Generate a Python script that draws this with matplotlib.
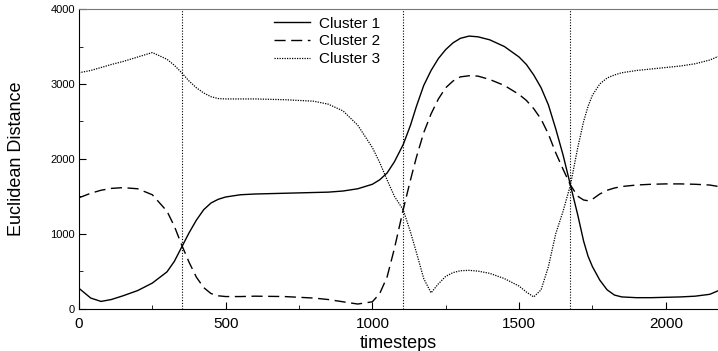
import matplotlib
matplotlib.use("Agg")
import matplotlib.pyplot as plt

plt.rcParams["font.family"] = ["Liberation Sans", "DejaVu Sans"]

# timesteps sampled along each curve
t = [0, 40, 75, 110, 150, 200, 250, 300, 325, 350, 375, 400, 425, 450, 475, 500,
     550, 600, 700, 800, 850, 900, 950, 1000, 1025, 1050, 1075, 1105, 1130, 1150,
     1175, 1200, 1225, 1250, 1275, 1300, 1330, 1360, 1400, 1450, 1500, 1525, 1550,
     1575, 1600, 1625, 1650, 1675, 1700, 1720, 1735, 1750, 1775, 1800, 1825, 1850,
     1900, 1950, 2000, 2050, 2100, 2150, 2180]

cluster1 = [270, 140, 95, 120, 170, 240, 340, 490, 630, 820, 1010, 1180, 1320, 1410, 1460, 1490,
            1520, 1530, 1540, 1550, 1555, 1570, 1600, 1660, 1720, 1810, 1960, 2190, 2450, 2700,
            2980, 3180, 3340, 3460, 3550, 3610, 3640, 3630, 3590, 3500, 3360, 3260, 3120,
            2950, 2720, 2400, 2050, 1650, 1250, 900, 700, 560, 380, 250, 180, 155,
            145, 145, 150, 155, 165, 190, 240]

cluster2 = [1480, 1540, 1580, 1605, 1615, 1600, 1520, 1300, 1100, 850, 620, 420, 280, 200, 170, 160,
            160, 165, 160, 140, 120, 90, 60, 90, 200, 420, 800, 1320, 1720, 2020,
            2350, 2600, 2800, 2950, 3040, 3095, 3110, 3105, 3060, 2980, 2860, 2780, 2670,
            2530, 2330, 2080, 1860, 1650, 1500, 1450, 1440, 1460, 1530, 1580, 1610, 1630,
            1650, 1660, 1665, 1665, 1660, 1650, 1630]

cluster3 = [3150, 3180, 3220, 3260, 3300, 3360, 3420, 3330, 3250, 3150, 3040, 2950, 2880, 2830, 2805, 2800,
            2800, 2800, 2790, 2770, 2730, 2640, 2450, 2150, 1950, 1720, 1500, 1320, 1020, 750,
            400, 210, 330, 430, 480, 505, 510, 500, 470, 400, 300, 220, 155,
            250, 560, 1000, 1300, 1650, 2150, 2500, 2700, 2850, 3000, 3080, 3120, 3150,
            3180, 3200, 3220, 3240, 3270, 3320, 3370]

boundaries = [350, 1105, 1675]

fig = plt.figure(figsize=(7.18, 3.51), dpi=100)
ax = fig.add_axes([0.110, 0.121, 0.89, 0.853])

ax.plot(t, cluster1, color="black", linewidth=1.0, linestyle="-", label="Cluster 1")
ax.plot(t, cluster2, color="black", linewidth=1.0, linestyle=(0, (8, 4)), label="Cluster 2")
ax.plot(t, cluster3, color="black", linewidth=0.9, linestyle=(0, (1, 1)), label="Cluster 3")

for b in boundaries:
    ax.axvline(b, color="black", linewidth=0.8, linestyle=(0, (1, 1.5)))

ax.set_xlim(0, 2178)
ax.set_ylim(0, 4000)
ax.set_xticks([0, 500, 1000, 1500, 2000])
ax.set_xticks([250, 750, 1250, 1750], minor=True)
ax.set_yticks([0, 1000, 2000, 3000, 4000])
ax.set_yticks([500, 1500, 2500, 3500], minor=True)
ax.tick_params(axis="both", which="both", direction="in", top=False, right=False)
ax.tick_params(axis="both", which="major", length=5)
ax.tick_params(axis="both", which="minor", length=3)
ax.tick_params(axis="x", labelsize=11, pad=6)
ax.tick_params(axis="y", labelsize=8, pad=3)

ax.spines["right"].set_visible(False)
ax.spines["top"].set_color("#777777")

ax.set_xlabel("timesteps", fontsize=13, labelpad=3)
ax.set_ylabel("Euclidean Distance", fontsize=13, labelpad=18)

ax.legend(loc="upper left", bbox_to_anchor=(0.305, 0.975), frameon=False,
          fontsize=11, handlelength=2.35, handletextpad=0.6,
          labelspacing=0.25, borderpad=0, borderaxespad=0)

fig.savefig("out.png", dpi=100)
